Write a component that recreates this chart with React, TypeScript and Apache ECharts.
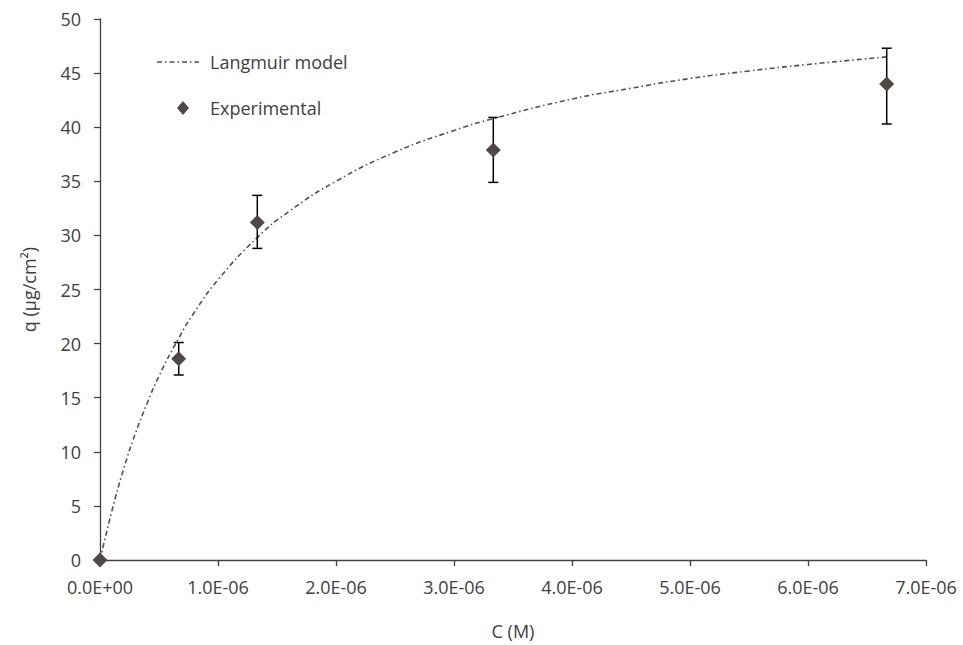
import React, { useEffect, useRef } from "react";
import * as echarts from "echarts";

// Experimental points: concentration C (M) and adsorbed amount q (µg/cm²)
const expC = [0, 6.67e-7, 1.333e-6, 3.333e-6, 6.667e-6];
const expQ = [0, 18.6, 31.2, 37.9, 44.0];
// Error bar bounds (low, high) for the non-zero points
const errC = [6.67e-7, 1.333e-6, 3.333e-6, 6.667e-6];
const errLow = [17.1, 28.8, 34.9, 40.3];
const errHigh = [20.1, 33.7, 40.9, 47.3];
// Langmuir model curve
const modelC = [0, 1e-7, 2e-7, 3e-7, 4e-7, 5e-7, 6.67e-7, 8e-7, 1e-6, 1.333e-6, 1.6e-6, 2e-6, 2.5e-6, 3e-6, 3.333e-6, 4e-6, 4.5e-6, 5e-6, 5.5e-6, 6e-6, 6.667e-6];
const modelQ = [0, 4.5, 8.4, 11.7, 14.5, 17.0, 20.5, 22.9, 25.9, 29.8, 32.2, 35.0, 37.7, 39.7, 40.8, 42.6, 43.6, 44.5, 45.2, 45.8, 46.5];

const FONT = "'Open Sans', sans-serif";
const TEXT = "#404040";
const FS = 18;

function fmtExp(v: number): string {
  if (v === 0) return "0.0E+00";
  const s = v.toExponential(1).toUpperCase();
  const [m, e] = s.split("E");
  const sign = e[0] === "-" ? "-" : "+";
  const digits = e.replace(/[+-]/, "").padStart(2, "0");
  return `${m}E${sign}${digits}`;
}

export default function App() {
  const ref = useRef<HTMLDivElement>(null);
  useEffect(() => {
    if (!ref.current) return;
    const chart = echarts.init(ref.current, undefined, { renderer: "svg" });
    const errData = errC.map((c, i) => [c, errLow[i], errHigh[i]]);
    chart.setOption({
      animation: false,
      backgroundColor: "#ffffff",
      grid: { left: 100, right: 37, top: 19, bottom: 80, containLabel: false },
      xAxis: {
        type: "value",
        min: 0,
        max: 7e-6,
        interval: 1e-6,
        name: "C (M)",
        nameLocation: "middle",
        nameGap: 62,
        nameTextStyle: { fontFamily: FONT, fontSize: FS, color: TEXT },
        axisLine: { show: true, lineStyle: { color: "#404040", width: 1.3 } },
        axisTick: { show: true, inside: false, length: 6, lineStyle: { color: "#404040", width: 1.3 } },
        axisLabel: { formatter: fmtExp, fontFamily: FONT, fontSize: FS, color: TEXT, margin: 18 },
        splitLine: { show: false },
      },
      yAxis: {
        type: "value",
        min: 0,
        max: 50,
        interval: 5,
        name: "q (µg/cm²)",
        nameLocation: "middle",
        nameGap: 62,
        nameRotate: 90,
        nameTextStyle: { fontFamily: FONT, fontSize: 18, color: TEXT },
        axisLine: { show: true, lineStyle: { color: "#404040", width: 1.3 } },
        axisTick: { show: true, inside: false, length: 6, lineStyle: { color: "#404040", width: 1.3 } },
        axisLabel: { fontFamily: FONT, fontSize: FS, color: TEXT, margin: 19 },
        splitLine: { show: false },
      },
      series: [
        {
          name: "Langmuir model",
          type: "line",
          data: modelC.map((c, i) => [c, modelQ[i]]),
          showSymbol: false,
          smooth: true,
          lineStyle: { color: "#505050", width: 1.6, type: [5, 3, 1.5, 3] },
          z: 2,
        },
        {
          name: "Error",
          type: "custom",
          data: errData,
          renderItem: (params: any, api: any) => {
            const x = api.value(0);
            const lo = api.coord([x, api.value(1)]);
            const hi = api.coord([x, api.value(2)]);
            const w = 5;
            const st = { stroke: "#000000", lineWidth: 1.5 };
            return {
              type: "group",
              children: [
                { type: "line", shape: { x1: lo[0], y1: lo[1], x2: hi[0], y2: hi[1] }, style: st },
                { type: "line", shape: { x1: lo[0] - w, y1: lo[1], x2: lo[0] + w, y2: lo[1] }, style: st },
                { type: "line", shape: { x1: hi[0] - w, y1: hi[1], x2: hi[0] + w, y2: hi[1] }, style: st },
              ],
            };
          },
          z: 3,
        },
        {
          name: "Experimental",
          type: "scatter",
          data: expC.map((c, i) => [c, expQ[i]]),
          symbol: "diamond",
          symbolSize: 15,
          itemStyle: { color: "#524747", opacity: 1 },
          z: 4,
        },
      ],
      graphic: [
        {
          type: "line",
          shape: { x1: 157, y1: 62, x2: 199, y2: 62 },
          style: { stroke: "#505050", lineWidth: 1.6, lineDash: [5, 3, 1.5, 3] },
        },
        {
          type: "text",
          x: 210,
          y: 62,
          style: { text: "Langmuir model", font: `18px ${FONT}`, fill: TEXT, textVerticalAlign: "middle" },
        },
        {
          type: "polygon",
          shape: { points: [[183, 101], [189, 108], [183, 115], [177, 108]] },
          style: { fill: "#524747" },
        },
        {
          type: "text",
          x: 210,
          y: 108,
          style: { text: "Experimental", font: `18px ${FONT}`, fill: TEXT, textVerticalAlign: "middle" },
        },
      ],
    });
    return () => chart.dispose();
  }, []);
  return <div ref={ref} style={{ position: "absolute", left: 0, top: 0, width: 963, height: 645 }} />;
}
